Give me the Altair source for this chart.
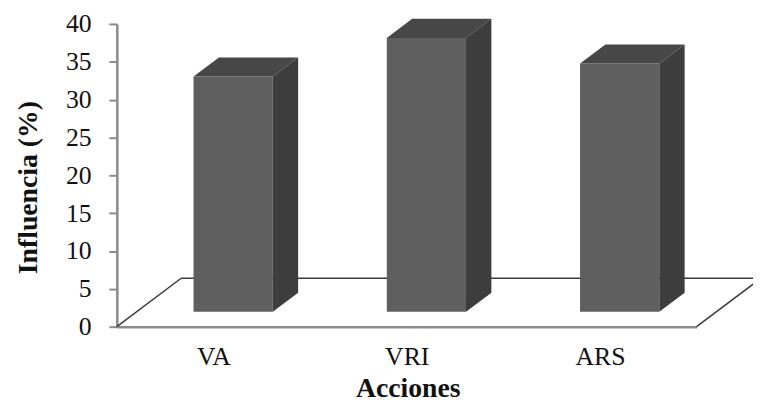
import json
import altair as alt
import pandas as pd

# ---- data ----
categories = ["VA", "VRI", "ARS"]
values = [31.1, 36.2, 32.8]          # Influencia (%)
y_ticks = [0, 5, 10, 15, 20, 25, 30, 35, 40]

# ---- 3-D projection settings (style, in axis units) ----
DEPTH_X = 0.333    # horizontal shift of the floor's back edge (category units)
DEPTH_Y = 6.4      # vertical shift of the floor's back edge (value units)
BAR_W = 0.41
FRONT = 0.306      # bar front face depth fraction
BACK = 0.70        # bar back face depth fraction
N = len(categories)

front_rows, top_sets, side_sets = [], [], []
for i, (c, v) in enumerate(zip(categories, values)):
    L = i + 0.5 - BAR_W / 2 + FRONT * DEPTH_X
    R = L + BAR_W
    dx = (BACK - FRONT) * DEPTH_X
    yf = FRONT * DEPTH_Y
    yb = BACK * DEPTH_Y
    front_rows.append(dict(cat=c, x=L, x2=R, y=yf, y2=yf + v))
    top_sets.append([dict(x=xx, y=lo, y2=hi) for xx, lo, hi in
                     [(L, yf + v, yf + v), (L + dx, yf + v, yb + v),
                      (R, yf + v, yb + v), (R + dx, yb + v, yb + v)]])
    side_sets.append([dict(x=xx, y=lo, y2=hi) for xx, lo, hi in
                      [(R, yf, yf + v), (R + dx, yb, yb + v)]])

floor_rows = [
    dict(x=0, x2=DEPTH_X, y=0, y2=DEPTH_Y),
    dict(x=N, x2=N + DEPTH_X, y=0, y2=DEPTH_Y),
    dict(x=DEPTH_X, x2=N + DEPTH_X, y=DEPTH_Y, y2=DEPTH_Y),
]

FONT = "Liberation Serif"
xscale = alt.Scale(domain=[0, N], nice=False, zero=False)
yscale = alt.Scale(domain=[0, 40], nice=False)

label_expr = json.dumps(categories) + "[floor(datum.value)]"

x_axis = alt.Axis(values=[i + 0.5 for i in range(N)], labelExpr=label_expr, ticks=False,
                  grid=False, domain=True, domainColor="#8a8a8a", domainWidth=2.5,
                  labelFontSize=26, labelColor="#111111", labelPadding=17,
                  labelAngle=0, title="Acciones", titleFontSize=28,
                  titleFontWeight="bold", titleColor="#111111", titleX=294, titleY=71,
                  titleBaseline="alphabetic", titleAlign="center")
y_axis = alt.Axis(values=y_ticks, grid=False, domainColor="#8a8a8a", domainWidth=2.5,
                  tickColor="#8a8a8a", tickWidth=2, tickSize=8,
                  labelFontSize=26, labelColor="#111111", labelPadding=18,
                  title="Influencia (%)", titleFontSize=28,
                  titleFontWeight="bold", titleColor="#111111", titleX=-81, titleY=165,
                  titleBaseline="alphabetic", titleAlign="center", titleAngle=270)

X = alt.X("x:Q", scale=xscale, axis=x_axis)
Y = alt.Y("y:Q", scale=yscale, axis=y_axis, stack=None)

layers = [
    alt.Chart(pd.DataFrame(floor_rows)).mark_rule(color="#3a3a3a", strokeWidth=1.5).encode(
        x=X, x2="x2:Q", y=Y, y2="y2:Q"),
    alt.Chart(pd.DataFrame(front_rows)).mark_rect(color="#5f5f5f").encode(
        x=X, x2="x2:Q", y=Y, y2="y2:Q"),
]
for rows in top_sets:
    layers.append(alt.Chart(pd.DataFrame(rows)).mark_area(color="#474747").encode(
        x=X, y=Y, y2="y2:Q"))
for rows in side_sets:
    layers.append(alt.Chart(pd.DataFrame(rows)).mark_area(color="#3d3d3d").encode(
        x=X, y=Y, y2="y2:Q"))

chart = alt.layer(*layers).properties(
    width=586, height=306,
    autosize=alt.AutoSizeParams(type="none"),
    padding={"left": 110, "top": 14, "right": 57, "bottom": 74},
    background="white",
).configure(font=FONT).configure_axis(labelFont=FONT, titleFont=FONT).configure_view(stroke=None)

chart.save("out.html", embed_options={"renderer": "svg", "actions": False})
